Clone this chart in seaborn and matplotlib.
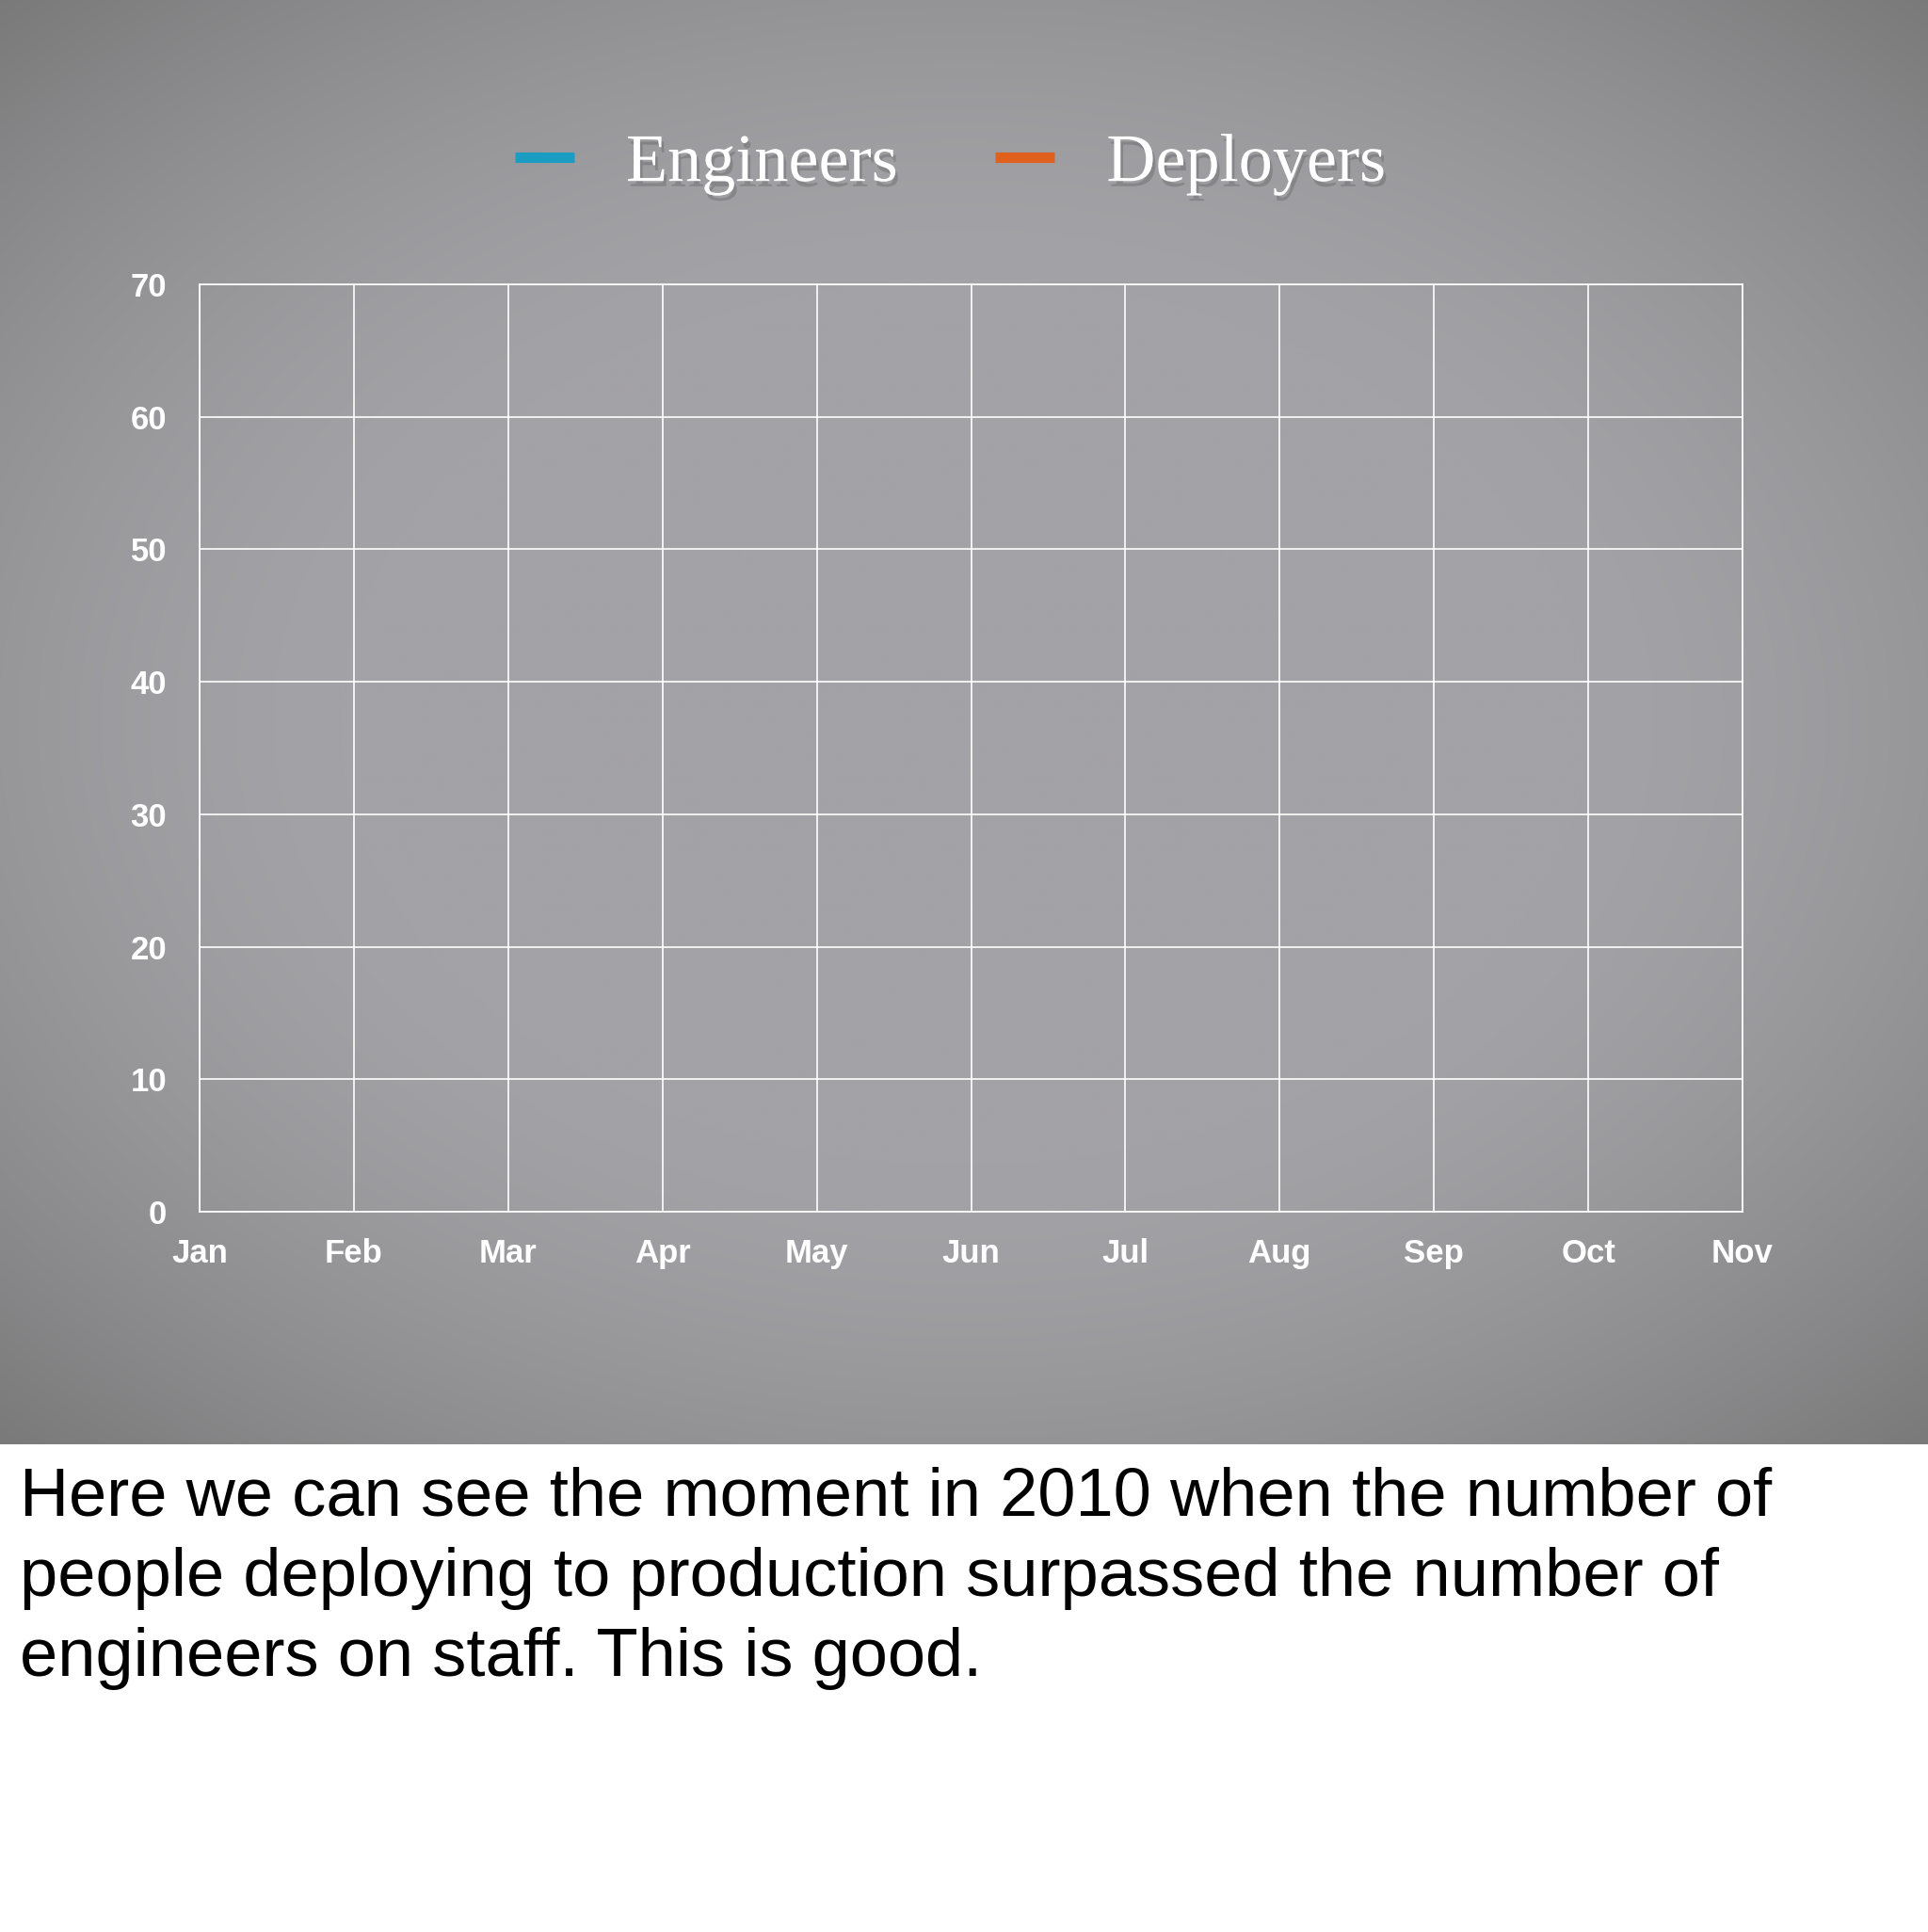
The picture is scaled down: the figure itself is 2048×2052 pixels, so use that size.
import numpy as np
import matplotlib.pyplot as plt
import matplotlib.patheffects as pe
import seaborn as sns

# Chart data (the slide shows an empty chart: no values plotted yet)
months = ["Jan", "Feb", "Mar", "Apr", "May", "Jun", "Jul", "Aug", "Sep", "Oct", "Nov"]
y_ticks = [0, 10, 20, 30, 40, 50, 60, 70]
series_names = ["Engineers", "Deployers"]
series_colors = ["#1b9cc2", "#e0601d"]
engineers = []
deployers = []
caption_lines = [
    "Here we can see the moment in 2010 when the number of",
    "people deploying to production surpassed the number of",
    "engineers on staff. This is good.",
]

sns.set_theme(style="whitegrid")
plt.rcParams["font.family"] = ["Liberation Sans", "DejaVu Sans"]

fig = plt.figure(figsize=(20.48, 20.52), dpi=100)
fig.patch.set_facecolor("white")

# Slide background with a soft vignette
bg = fig.add_axes([0, 1 - 1534 / 2052, 1, 1534 / 2052])
h, w = 400, 540
yy, xx = np.mgrid[-1:1:h * 1j, -1:1:w * 1j]
r = np.sqrt((xx * 1.0) ** 2 + (yy * 1.05) ** 2)
fade = np.clip((r - 0.65) / 0.85, 0, 1) ** 1.5
center = np.array([163, 162, 166]) / 255
edge = np.array([118, 118, 118]) / 255
img = center[None, None, :] * (1 - fade[..., None]) + edge[None, None, :] * fade[..., None]
bg.imshow(img, extent=[0, 1, 0, 1], aspect="auto", interpolation="bilinear")
bg.axis("off")

# Chart area
ax = fig.add_axes([212 / 2048, 1 - 1287 / 2052, 1639 / 2048, 985 / 2052])
ax.set_facecolor("none")
x = np.arange(len(months))
ax.plot(x[:len(engineers)], engineers, color=series_colors[0], lw=4, label=series_names[0])
ax.plot(x[:len(deployers)], deployers, color=series_colors[1], lw=4, label=series_names[1])

ax.set_xlim(0, len(months) - 1)
ax.set_ylim(y_ticks[0], y_ticks[-1])
ax.set_xticks(x, months)
ax.set_yticks(y_ticks)
ax.grid(True, color="white", lw=1.2)
for s in ax.spines.values():
    s.set_visible(True)
    s.set_color("white")
    s.set_linewidth(1.2)
ax.tick_params(axis="both", length=0, colors="white", labelsize=25)
ax.tick_params(axis="y", pad=25)
ax.tick_params(axis="x", pad=20)
for lab in ax.get_xticklabels() + ax.get_yticklabels():
    lab.set_fontweight("bold")

# Legend at the top of the slide
handles = [plt.Line2D([], [], color=c, lw=8, solid_capstyle="butt") for c in series_colors]
leg = fig.legend(handles, series_names, loc="center", bbox_to_anchor=(0.493, 0.915),
                 ncol=2, frameon=False, handlelength=0.875, handletextpad=0.76,
                 columnspacing=1.43, prop={"family": "Liberation Serif", "size": 52})
for t in leg.get_texts():
    t.set_color("white")
    t.set_path_effects([pe.withSimplePatchShadow(offset=(2, -4), shadow_rgbFace="black", alpha=0.15)])

# Caption below the slide
for i, line in enumerate(caption_lines):
    fig.text(21 / 2048, 1 - (1610 + 85 * i) / 2052, line, fontsize=52, color="black",
             ha="left", va="baseline")

fig.savefig("out.png", dpi=100)
